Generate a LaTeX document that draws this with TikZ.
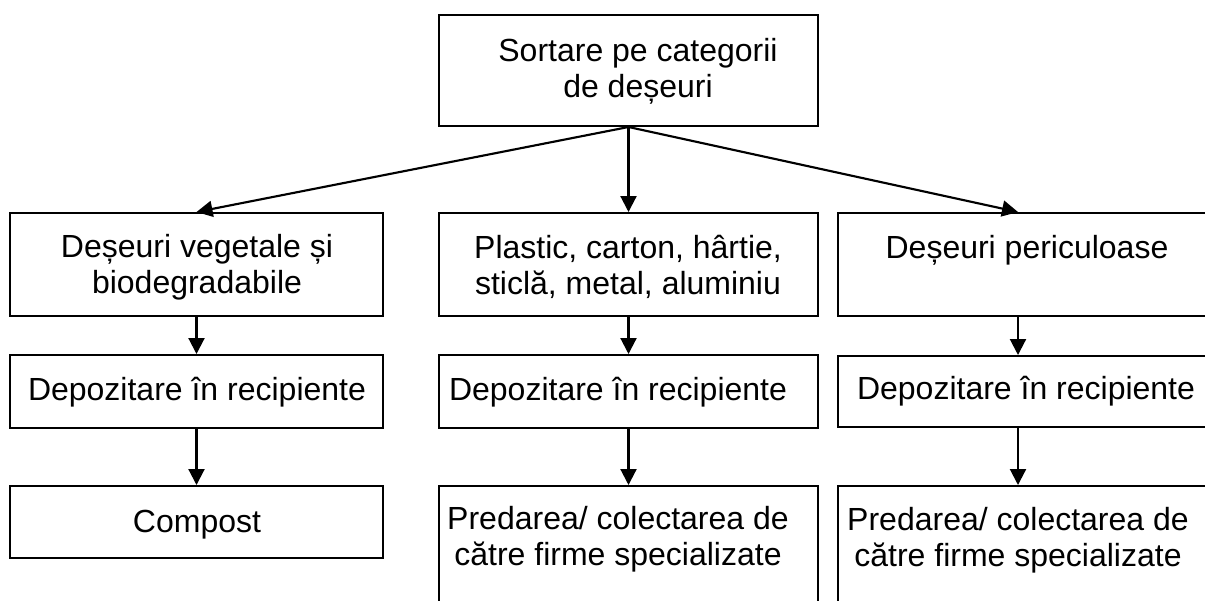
\documentclass[tikz,border=0pt]{standalone}
\usepackage{fontspec}
\setmainfont{Liberation Sans}
\usetikzlibrary{arrows.meta}
\tikzset{
  box/.style={draw=black, line width=1.5pt, rectangle, inner sep=0pt},
  lbl/.style={font=\fontsize{24}{26.4}\selectfont, align=center, inner sep=0pt, anchor=base},
  arr/.style={line width=1.6pt, -{Triangle[length=12pt,width=12pt]}}
}
\newcommand\mkbox[5]{\node[box, minimum width=#4*0.75pt, minimum height=#5*0.75pt] (#1) at (#2,#3) {};}
\begin{document}
\begin{tikzpicture}[x=0.75pt,y=-0.75pt]
\useasboundingbox (0,0) rectangle (1205,600);
\clip (0,0) rectangle (1205,600);
\fill[white] (0,0) rectangle (1205,600);
% boxes: name, center x, center y, width, height
\mkbox{top}{628.5}{70.5}{379}{111}
\mkbox{L1}{196.5}{264.5}{373}{103}
\mkbox{L2}{196.5}{391.5}{373}{73}
\mkbox{L3}{196.5}{522}{373}{72}
\mkbox{M1}{628.5}{264.5}{379}{103}
\mkbox{M2}{628.5}{391.5}{379}{73}
\mkbox{M3}{628.5}{553}{379}{134}
\mkbox{R1}{1026.5}{264.5}{377}{103}
\mkbox{R2}{1026.5}{391.5}{377}{71}
\mkbox{R3}{1026.5}{553}{377}{134}
\coordinate (rx) at (1018,0);
% texts (anchor base = baseline of the last line)
\node[lbl] (tTop) at (638,97) {Sortare pe categorii\\de deșeuri};
\node[lbl] (tL1) at (197,293) {Deșeuri vegetale și\\biodegradabile};
\node[lbl] (tL2) at (197,400) {Depozitare în recipiente};
\node[lbl] (tL3) at (197,532) {Compost};
\node[lbl] (tM1) at (628,294) {Plastic, carton, hârtie,\\sticlă, metal, aluminiu};
\node[lbl] (tM2) at (618,400) {Depozitare în recipiente};
\node[lbl] (tM3) at (618,565) {Predarea/ colectarea de\\către firme specializate};
\node[lbl] (tR1) at (1027,258) {Deșeuri periculoase};
\node[lbl] (tR2) at (1026,399) {Depozitare în recipiente};
\node[lbl] (tR3) at (1018,566) {Predarea/ colectarea de\\către firme specializate};
% connectors
\draw[arr] (top.south) -- (L1.north);
\draw[arr] (top.south) -- (M1.north);
\draw[arr] (top.south) -- (R1.north -| rx);
\draw[arr] (L1.south) -- (L2.north);
\draw[arr] (L2.south) -- (L3.north);
\draw[arr] (M1.south) -- (M2.north);
\draw[arr] (M2.south) -- (M3.north);
\draw[arr] (R1.south -| rx) -- (R2.north -| rx);
\draw[arr] (R2.south -| rx) -- (R3.north -| rx);
\end{tikzpicture}
\end{document}
